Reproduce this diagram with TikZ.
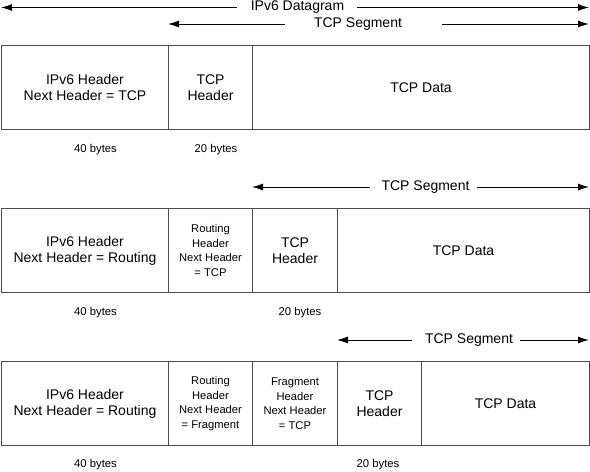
\documentclass[tikz,border=0pt]{standalone}
\usepackage{fontspec}
\setmainfont{Liberation Sans}
\usetikzlibrary{arrows.meta}
\begin{document}
\begin{tikzpicture}[x=1pt,y=-1pt,
  cell/.style={draw=black!70, line width=1pt, anchor=north west, inner sep=0pt,
    minimum height=84pt, align=center, font=\fontsize{14}{16}\selectfont},
  small/.style={font=\fontsize{11.2}{14.5}\selectfont},
  lbl/.style={inner sep=0pt, font=\fontsize{14}{16}\selectfont},
  note/.style={inner sep=0pt, font=\fontsize{11.3}{13}\selectfont},
  arr/.style={-{Latex[length=11pt,width=7pt]}, line width=0.9pt}]
\useasboundingbox (0,0) rectangle (590,472);

% Row 1
\node[cell, minimum width=167pt] (r1ip) at (1,45) {IPv6 Header\\Next Header = TCP};
\node[cell, minimum width=84pt] (r1th) at (168,45) {TCP\\Header};
\node[cell, minimum width=337pt] (r1td) at (252,45) {TCP Data};
\node[note] (r1b40) at (95.5,150) {40 bytes};
\node[note] (r1b20) at (216,150) {20 bytes};

% Row 2
\node[cell, minimum width=167pt] (r2ip) at (1,208) {IPv6 Header\\Next Header = Routing};
\node[cell, small, minimum width=84pt] (r2rh) at (168,208) {Routing\\Header\\Next Header\\= TCP};
\node[cell, minimum width=85pt] (r2th) at (252,208) {TCP\\Header};
\node[cell, minimum width=252pt] (r2td) at (337,208) {TCP Data};
\node[note] (r2b40) at (95.5,313) {40 bytes};
\node[note] (r2b20) at (300,313) {20 bytes};

% Row 3
\node[cell, minimum width=167pt] (r3ip) at (1,361) {IPv6 Header\\Next Header = Routing};
\node[cell, small, minimum width=84pt] (r3rh) at (168,361) {Routing\\Header\\Next Header\\= Fragment};
\node[cell, small, minimum width=85pt] (r3fh) at (252,361) {Fragment\\Header\\Next Header\\= TCP};
\node[cell, minimum width=84pt] (r3th) at (337,361) {TCP\\Header};
\node[cell, minimum width=168pt] (r3td) at (421,361) {TCP Data};
\node[note] (r3b40) at (95.5,465) {40 bytes};
\node[note] (r3b20) at (378,465) {20 bytes};

% Span arrows
\node[lbl] (dg) at (297.5,7.5) {IPv6 Datagram};
\coordinate (dgL) at (1,7.5);
\coordinate (dgR) at (589,7.5);
\draw[arr] ([xshift=-14pt]dg.west) -- (dgL);
\draw[arr] ([xshift=13pt]dg.east) -- (dgR);

\node[lbl] (s1) at (358,24) {TCP Segment};
\coordinate (s1L) at (168,24);
\coordinate (s1R) at (589,24);
\draw[arr] ([xshift=-29pt]s1.west) -- (s1L);
\draw[arr] ([xshift=40pt]s1.east) -- (s1R);

\node[lbl] (s2) at (425.5,187) {TCP Segment};
\coordinate (s2L) at (252,187);
\coordinate (s2R) at (589,187);
\draw[arr] ([xshift=-11pt]s2.west) -- (s2L);
\draw[arr] ([xshift=7pt]s2.east) -- (s2R);

\node[lbl] (s3) at (469,340) {TCP Segment};
\coordinate (s3L) at (337,340);
\coordinate (s3R) at (589,340);
\draw[arr] ([xshift=-13pt]s3.west) -- (s3L);
\draw[arr] ([xshift=7pt]s3.east) -- (s3R);
\end{tikzpicture}
\end{document}
